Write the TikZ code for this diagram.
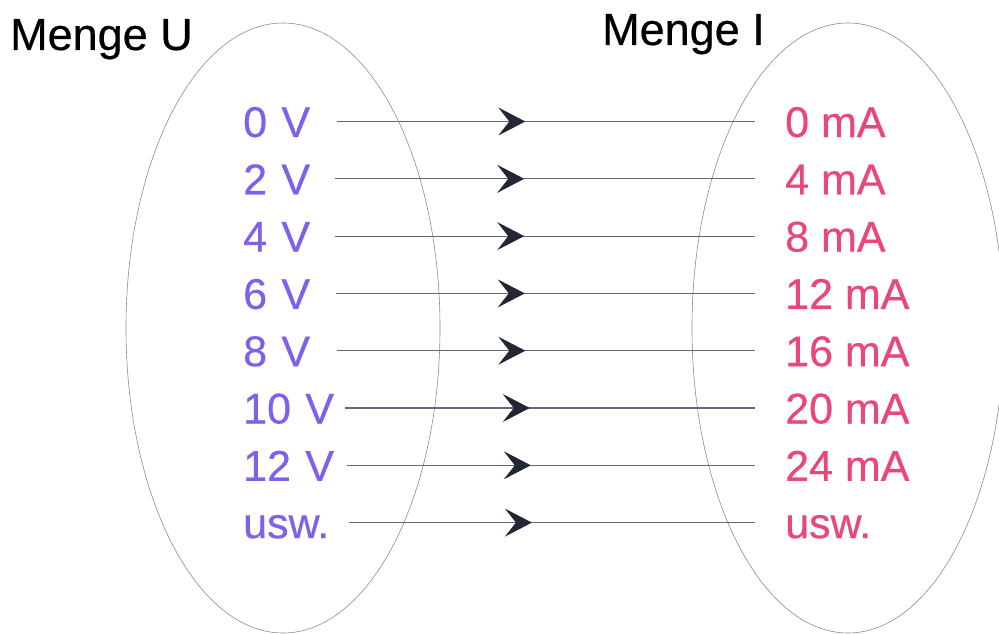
\documentclass[tikz,border=0pt]{standalone}
\usepackage{fontspec}
\setmainfont{Liberation Sans}[BoldFont={Liberation Sans},BoldFeatures={FakeBold=0.5}]
\usetikzlibrary{arrows.meta,decorations.markings}
\definecolor{volt}{RGB}{128,96,232}
\definecolor{amp}{RGB}{232,70,124}
\definecolor{linec}{RGB}{95,105,125}
\definecolor{tipc}{RGB}{35,38,52}
\definecolor{ellc}{RGB}{140,140,140}
\begin{document}
\begin{tikzpicture}[x=1pt,y=-1pt,
  every node/.style={inner sep=0pt,font=\fontsize{43}{50}\selectfont\bfseries},
  title/.style={anchor=base west,text=black,font=\fontsize{45}{52}\selectfont\bfseries},
  uval/.style={anchor=west,text=volt,align=left,text height=31pt,text depth=0pt},
  ival/.style={anchor=west,text=amp,text height=31pt,text depth=0pt},
  setring/.style={draw=ellc,line width=0.6pt},
  mapline/.style={draw=linec,line width=1.1pt,
    postaction={decorate},
    decoration={markings,mark=at position 0.45 with {\arrow[tipc]{Stealth[length=27pt,width=28pt,inset=11pt]}}}}]
\useasboundingbox (0,0) rectangle (999,634);
\draw[setring] (283,328) ellipse [x radius=157, y radius=305];
\draw[setring] (848,328) ellipse [x radius=156, y radius=305];
\node[title] (tu) at (10,50) {Menge U};
\node[title] (ti) at (602,45) {Menge I};
\foreach \i/\u/\a/\w in {0/0 V/0 mA/94,1/2 V/4 mA/92,2/4 V/8 mA/92,3/6 V/12 mA/93,4/8 V/16 mA/94,5/10 V/20 mA/102,6/12 V/24 mA/104,7/usw./usw./106}{
  \node[uval,text width=\w pt] (u\i) at (243,{137+57.3*\i-15.5}) {\u};
  \node[ival] (a\i) at (785,{137+57.3*\i-15.5}) {\a};
  \draw[mapline] (u\i.east) -- ([xshift=-30pt]a\i.west);
}
\end{tikzpicture}
\end{document}
